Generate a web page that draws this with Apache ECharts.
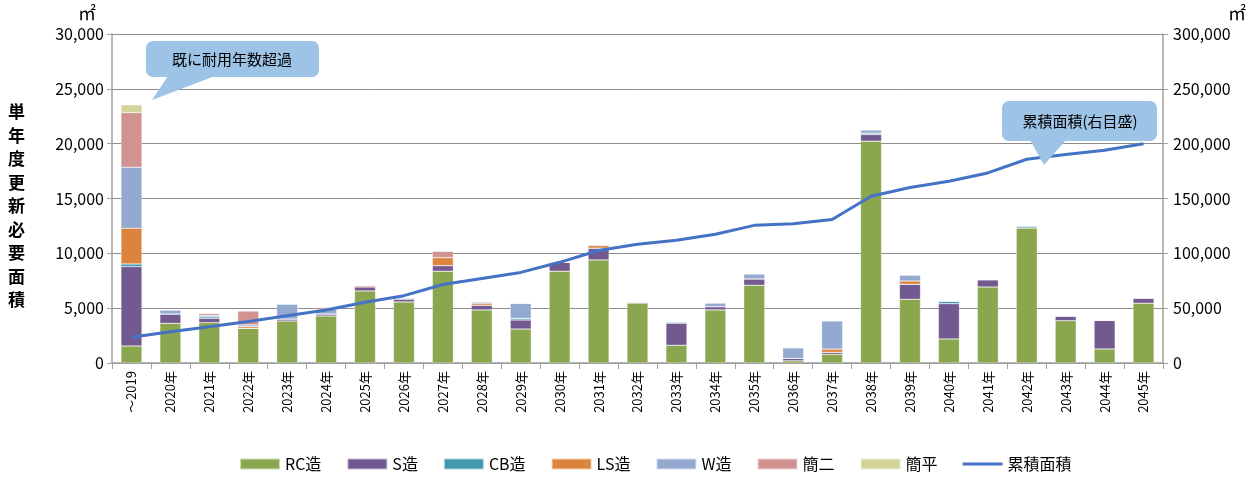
<!DOCTYPE html>
<html>
<head>
<meta charset="utf-8">
<script src="https://cdn.jsdelivr.net/npm/echarts@6/dist/echarts.min.js"></script>
<style>
  html, body { margin: 0; padding: 0; background: #fff; }
  #main { width: 1258px; height: 481px; }
</style>
</head>
<body>
<div id="main"></div>
<script>
// 年度
var years = ['～2019', '2020年', '2021年', '2022年', '2023年', '2024年', '2025年', '2026年', '2027年',
  '2028年', '2029年', '2030年', '2031年', '2032年', '2033年', '2034年', '2035年', '2036年', '2037年',
  '2038年', '2039年', '2040年', '2041年', '2042年', '2043年', '2044年', '2045年'];

// 構造別 単年度更新必要面積 (㎡)
var rcData   = [1550, 3620, 3680, 3170, 3830, 4290, 6570, 5570, 8370, 4840, 3100, 8370, 9400, 5480, 1620, 4840, 7090, 200, 790, 20230, 5810, 2190, 6930, 12320, 3860, 1280, 5450];
var sData    = [7240, 850, 400, 0, 180, 180, 370, 270, 510, 430, 820, 820, 1070, 0, 2010, 300, 580, 220, 180, 600, 1370, 3220, 670, 0, 430, 2620, 480];
var cbData   = [240, 0, 140, 0, 0, 0, 0, 0, 0, 0, 150, 0, 0, 90, 120, 0, 0, 0, 0, 130, 0, 240, 0, 180, 0, 0, 0];
var lsData   = [3260, 0, 0, 150, 0, 0, 130, 0, 730, 180, 0, 0, 240, 0, 0, 0, 0, 0, 300, 0, 300, 0, 0, 0, 0, 0, 0];
var wData    = [5570, 370, 140, 150, 1370, 400, 0, 100, 0, 120, 1370, 0, 90, 0, 0, 340, 460, 970, 2580, 300, 550, 0, 0, 0, 0, 0, 0];
var kan2Data = [4980, 0, 180, 1280, 0, 200, 0, 0, 580, 0, 0, 0, 0, 0, 0, 0, 0, 0, 0, 0, 0, 0, 0, 0, 0, 0, 0];
var kanhData = [700, 0, 0, 0, 0, 0, 0, 0, 0, 0, 0, 0, 0, 0, 0, 0, 0, 0, 0, 0, 0, 0, 0, 0, 0, 0, 0];

// 累積面積 (右目盛)
var cumData = [23500, 28400, 33000, 37800, 43100, 48300, 55400, 61400, 71600, 77100, 82600, 91800, 102600,
  108200, 111900, 117400, 125500, 126900, 130800, 152000, 160100, 165700, 173300, 185800, 190100, 194000, 199900];

var FONT = '"Noto Sans CJK JP", "Noto Sans", sans-serif';

function barSeries(name, data, color) {
  return {
    name: name,
    type: 'bar',
    stack: 'total',
    barWidth: 21,
    data: data,
    itemStyle: { color: color, borderColor: 'rgba(255,255,255,0.6)', borderWidth: 0.5 }
  };
}

var myChart = echarts.init(document.getElementById('main'));
var option = {
  animation: false,
  textStyle: { fontFamily: FONT },
  grid: { left: 112, right: 95, top: 34, bottom: 118 },
  legend: {
    bottom: 4,
    left: 234,
    itemWidth: 40,
    itemHeight: 11,
    itemGap: 25,
    textStyle: { fontSize: 16, color: '#000', fontFamily: FONT },
    data: [
      { name: 'RC造', icon: 'rect' }, { name: 'S造', icon: 'rect' }, { name: 'CB造', icon: 'rect' },
      { name: 'LS造', icon: 'rect' }, { name: 'W造', icon: 'rect' }, { name: '簡二', icon: 'rect' },
      { name: '簡平', icon: 'rect' },
      // 線だけのアイコン
      { name: '累積面積', icon: 'path://M0,0 L0.01,0 L0.01,0.01 Z M0,4 L40,4 L40,7 L0,7 Z M40,11 L39.99,11 L39.99,10.99 Z' }
    ]
  },
  xAxis: {
    type: 'category',
    data: years,
    axisLine: { lineStyle: { color: '#a0a0a0', width: 1.5 } },
    axisTick: { show: true, length: 6, lineStyle: { color: '#a0a0a0' } },
    axisLabel: { rotate: 90, fontSize: 13, color: '#000', margin: 8, interval: 0 }
  },
  yAxis: [
    {
      type: 'value', min: 0, max: 30000, interval: 5000,
      axisLine: { show: true, lineStyle: { color: '#a0a0a0', width: 1.5 } },
      axisTick: { show: true, length: 5, lineStyle: { color: '#a0a0a0' } },
      splitLine: { lineStyle: { color: '#8c8c8c', width: 1 } },
      axisLabel: {
        fontSize: 16, color: '#000', margin: 8,
        formatter: function (v) { return v.toLocaleString('en-US'); }
      }
    },
    {
      type: 'value', min: 0, max: 300000, interval: 50000,
      axisLine: { show: true, lineStyle: { color: '#a0a0a0', width: 1.5 } },
      axisTick: { show: true, length: 5, lineStyle: { color: '#a0a0a0' } },
      splitLine: { show: false },
      axisLabel: {
        fontSize: 16, color: '#000', margin: 10,
        formatter: function (v) { return v.toLocaleString('en-US'); }
      }
    }
  ],
  series: [
    barSeries('RC造', rcData, '#8aa64f'),
    barSeries('S造', sData, '#725990'),
    barSeries('CB造', cbData, '#4198af'),
    barSeries('LS造', lsData, '#db843d'),
    barSeries('W造', wData, '#93a9cf'),
    barSeries('簡二', kan2Data, '#d19392'),
    barSeries('簡平', kanhData, '#d2d49a'),
    {
      name: '累積面積',
      type: 'line',
      yAxisIndex: 1,
      data: cumData,
      symbol: 'none',
      lineStyle: { color: '#4472c4', width: 3 },
      itemStyle: { color: '#4472c4' },
      z: 5
    }
  ],
  graphic: [
    // 単位
    { type: 'text', left: 78, top: 4, style: { text: '㎡', font: '18px ' + FONT, fill: '#000' } },
    { type: 'text', left: 1228, top: 4, style: { text: '㎡', font: '18px ' + FONT, fill: '#000' } },
    // 左軸タイトル
    {
      type: 'text', left: 8, top: 100,
      style: {
        text: '単\n年\n度\n更\n新\n必\n要\n面\n積',
        font: 'bold 17px ' + FONT, lineHeight: 23.5, fill: '#000'
      }
    },
    // 吹き出し: 既に耐用年数超過
    { type: 'polygon', shape: { points: [[168, 76], [215, 76], [152, 100]] }, style: { fill: '#9dc3e6' }, z: 10 },
    { type: 'rect', shape: { x: 146, y: 41, width: 173, height: 36, r: 7 }, style: { fill: '#9dc3e6' }, z: 10 },
    {
      type: 'text', x: 232, y: 59, z: 11,
      style: { text: '既に耐用年数超過', font: '15px ' + FONT, fill: '#000', align: 'center', verticalAlign: 'middle' }
    },
    // 吹き出し: 累積面積(右目盛)
    { type: 'polygon', shape: { points: [[1030, 140], [1066, 140], [1044, 165]] }, style: { fill: '#9dc3e6' }, z: 10 },
    { type: 'rect', shape: { x: 1002, y: 101, width: 155, height: 40, r: 7 }, style: { fill: '#9dc3e6' }, z: 10 },
    {
      type: 'text', x: 1080, y: 121, z: 11,
      style: { text: '累積面積(右目盛)', font: '15px ' + FONT, fill: '#000', align: 'center', verticalAlign: 'middle' }
    }
  ]
};

// 使用刚指定的配置项和数据显示图表。
myChart.setOption(option, true);
</script>
</body>
</html>
